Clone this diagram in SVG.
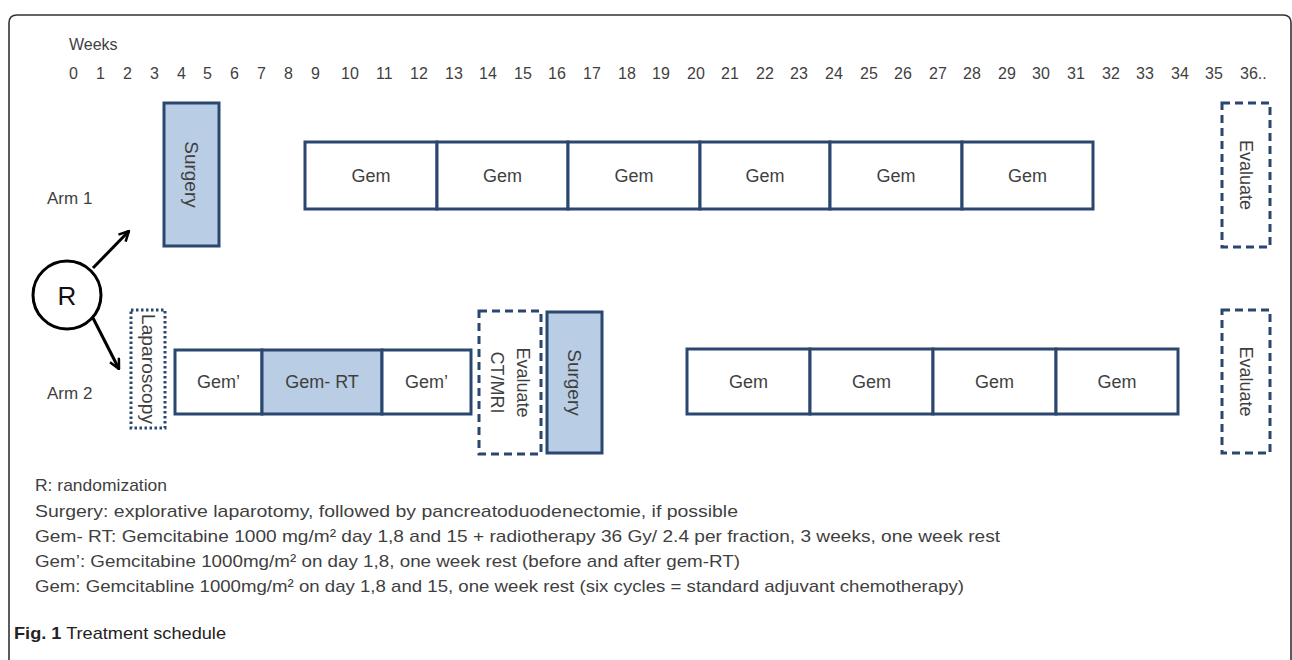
<svg xmlns="http://www.w3.org/2000/svg" width="1292" height="660" viewBox="0 0 1292 660">
<style>
text{font-family:"Liberation Sans",Arial,sans-serif;fill:#3f3f3f}
.num{font-size:16px}
.lbl{font-size:18px;text-anchor:middle;dominant-baseline:central}
.leg{font-size:17px}
.box{fill:#fff;stroke:#2b4770;stroke-width:3}
.fill{fill:#b9cde5;stroke:#2b4770;stroke-width:3}
.dash{fill:#fff;stroke:#2b4770;stroke-width:3;stroke-dasharray:8 5}
.dot{fill:#fff;stroke:#2b4770;stroke-width:3;stroke-dasharray:2.5 2.5}
.arr{stroke:#000;stroke-width:3;fill:none}
</style>
<defs>
<marker id="ah" viewBox="0 0 12 12" refX="11" refY="6" markerWidth="12" markerHeight="12" markerUnits="userSpaceOnUse" orient="auto">
<path d="M1,1 L11,6 L1,11" fill="none" stroke="#000" stroke-width="2.5"/>
</marker>
</defs>
<rect width="1292" height="660" fill="#fff"/>
<path d="M9,660 V23 Q9,15 17,15 H1283 Q1291,15 1291,23 V660" fill="none" stroke="#333" stroke-width="1.6"/>
<text x="69" y="50" class="num">Weeks</text>
<g id="week-numbers">
<text x="69" y="79" class="num">0</text><text x="96" y="79" class="num">1</text><text x="123" y="79" class="num">2</text><text x="150" y="79" class="num">3</text><text x="177" y="79" class="num">4</text><text x="203" y="79" class="num">5</text><text x="230" y="79" class="num">6</text><text x="257" y="79" class="num">7</text><text x="284" y="79" class="num">8</text><text x="311" y="79" class="num">9</text>
<text x="341" y="79" class="num">10</text><text x="376" y="79" class="num">11</text><text x="410" y="79" class="num">12</text><text x="445" y="79" class="num">13</text><text x="479" y="79" class="num">14</text><text x="514" y="79" class="num">15</text><text x="548" y="79" class="num">16</text><text x="583" y="79" class="num">17</text><text x="618" y="79" class="num">18</text><text x="652" y="79" class="num">19</text>
<text x="687" y="79" class="num">20</text><text x="721" y="79" class="num">21</text><text x="756" y="79" class="num">22</text><text x="790" y="79" class="num">23</text><text x="825" y="79" class="num">24</text><text x="860" y="79" class="num">25</text><text x="894" y="79" class="num">26</text><text x="929" y="79" class="num">27</text><text x="963" y="79" class="num">28</text><text x="998" y="79" class="num">29</text>
<text x="1032" y="79" class="num">30</text><text x="1067" y="79" class="num">31</text><text x="1102" y="79" class="num">32</text><text x="1136" y="79" class="num">33</text><text x="1171" y="79" class="num">34</text><text x="1205" y="79" class="num">35</text><text x="1240" y="79" class="num">36..</text>
</g>
<text x="47" y="204" style="font-size:17px">Arm 1</text>
<text x="47" y="399" style="font-size:17px">Arm 2</text>

<g id="connectors">
<line x1="93" y1="268" x2="129" y2="231" class="arr" marker-end="url(#ah)"/>
<line x1="93" y1="318" x2="119" y2="369" class="arr" marker-end="url(#ah)"/>
</g>

<g id="R">
<circle cx="67" cy="295" r="34" fill="#fff" stroke="#000" stroke-width="3"/>
<text x="67" y="296" class="lbl" style="font-size:26px;fill:#111">R</text>
</g>

<g id="arm1-surgery">
<rect x="164" y="103" width="55" height="143" class="fill"/>
<text class="lbl" transform="translate(191.5,174.5) rotate(90)" style="font-size:19px">Surgery</text>
</g>
<g id="arm1-gem1"><rect x="305" y="142" width="132" height="67" class="box"/><text x="371" y="175.5" class="lbl">Gem</text></g>
<g id="arm1-gem2"><rect x="437" y="142" width="131" height="67" class="box"/><text x="502.5" y="175.5" class="lbl">Gem</text></g>
<g id="arm1-gem3"><rect x="568" y="142" width="132" height="67" class="box"/><text x="634" y="175.5" class="lbl">Gem</text></g>
<g id="arm1-gem4"><rect x="700" y="142" width="130" height="67" class="box"/><text x="765" y="175.5" class="lbl">Gem</text></g>
<g id="arm1-gem5"><rect x="830" y="142" width="132" height="67" class="box"/><text x="896" y="175.5" class="lbl">Gem</text></g>
<g id="arm1-gem6"><rect x="962" y="142" width="131" height="67" class="box"/><text x="1027.5" y="175.5" class="lbl">Gem</text></g>
<g id="arm1-evaluate">
<rect x="1222" y="103" width="48" height="144" class="dash"/>
<text class="lbl" transform="translate(1246,175) rotate(90)">Evaluate</text>
</g>

<g id="arm2-laparoscopy">
<rect x="131" y="310" width="34" height="118" class="dot"/>
<text class="lbl" transform="translate(148,369) rotate(90)" style="font-size:18px" textLength="110" lengthAdjust="spacingAndGlyphs">Laparoscopy</text>
</g>
<g id="arm2-gemp1"><rect x="175" y="350" width="87" height="64" class="box"/><text x="218.5" y="382" class="lbl">Gem’</text></g>
<g id="arm2-gemrt"><rect x="262" y="350" width="120" height="64" class="fill"/><text x="322" y="382" class="lbl">Gem- RT</text></g>
<g id="arm2-gemp2"><rect x="382" y="350" width="89" height="64" class="box"/><text x="426.5" y="382" class="lbl">Gem’</text></g>
<g id="arm2-evaluate-ct">
<rect x="479" y="311" width="62" height="143" class="dash"/>
<text class="lbl" transform="translate(510,382.5) rotate(90)"><tspan x="0" dy="-13">Evaluate</tspan><tspan x="0" dy="26">CT/MRI</tspan></text>
</g>
<g id="arm2-surgery">
<rect x="547" y="312" width="55" height="141" class="fill"/>
<text class="lbl" transform="translate(574.5,382.5) rotate(90)" style="font-size:19px">Surgery</text>
</g>
<g id="arm2-gem1"><rect x="687" y="349" width="123" height="65" class="box"/><text x="748.5" y="382" class="lbl">Gem</text></g>
<g id="arm2-gem2"><rect x="810" y="349" width="123" height="65" class="box"/><text x="871.5" y="382" class="lbl">Gem</text></g>
<g id="arm2-gem3"><rect x="933" y="349" width="123" height="65" class="box"/><text x="994.5" y="382" class="lbl">Gem</text></g>
<g id="arm2-gem4"><rect x="1056" y="349" width="122" height="65" class="box"/><text x="1117" y="382" class="lbl">Gem</text></g>
<g id="arm2-evaluate">
<rect x="1222" y="310" width="48" height="143" class="dash"/>
<text class="lbl" transform="translate(1246,381.5) rotate(90)">Evaluate</text>
</g>

<g id="legend">
<text x="35" y="491" class="leg" textLength="132" lengthAdjust="spacingAndGlyphs">R: randomization</text>
<text x="35" y="517" class="leg" textLength="703" lengthAdjust="spacingAndGlyphs">Surgery: explorative laparotomy, followed by pancreatoduodenectomie, if possible</text>
<text x="35" y="542" class="leg" textLength="965" lengthAdjust="spacingAndGlyphs">Gem- RT: Gemcitabine 1000 mg/m² day 1,8 and 15 + radiotherapy 36 Gy/ 2.4 per fraction, 3 weeks, one week rest</text>
<text x="35" y="567" class="leg" textLength="705" lengthAdjust="spacingAndGlyphs">Gem’: Gemcitabine 1000mg/m² on day 1,8, one week rest (before and after gem-RT)</text>
<text x="35" y="592" class="leg" textLength="929" lengthAdjust="spacingAndGlyphs">Gem: Gemcitabline 1000mg/m² on day 1,8 and 15, one week rest (six cycles = standard adjuvant chemotherapy)</text>
</g>
<text x="14" y="639" style="font-family:'Liberation Sans Narrow','Liberation Sans',sans-serif;font-size:17px;fill:#222" textLength="212" lengthAdjust="spacingAndGlyphs"><tspan font-weight="bold">Fig. 1</tspan> Treatment schedule</text>
</svg>
